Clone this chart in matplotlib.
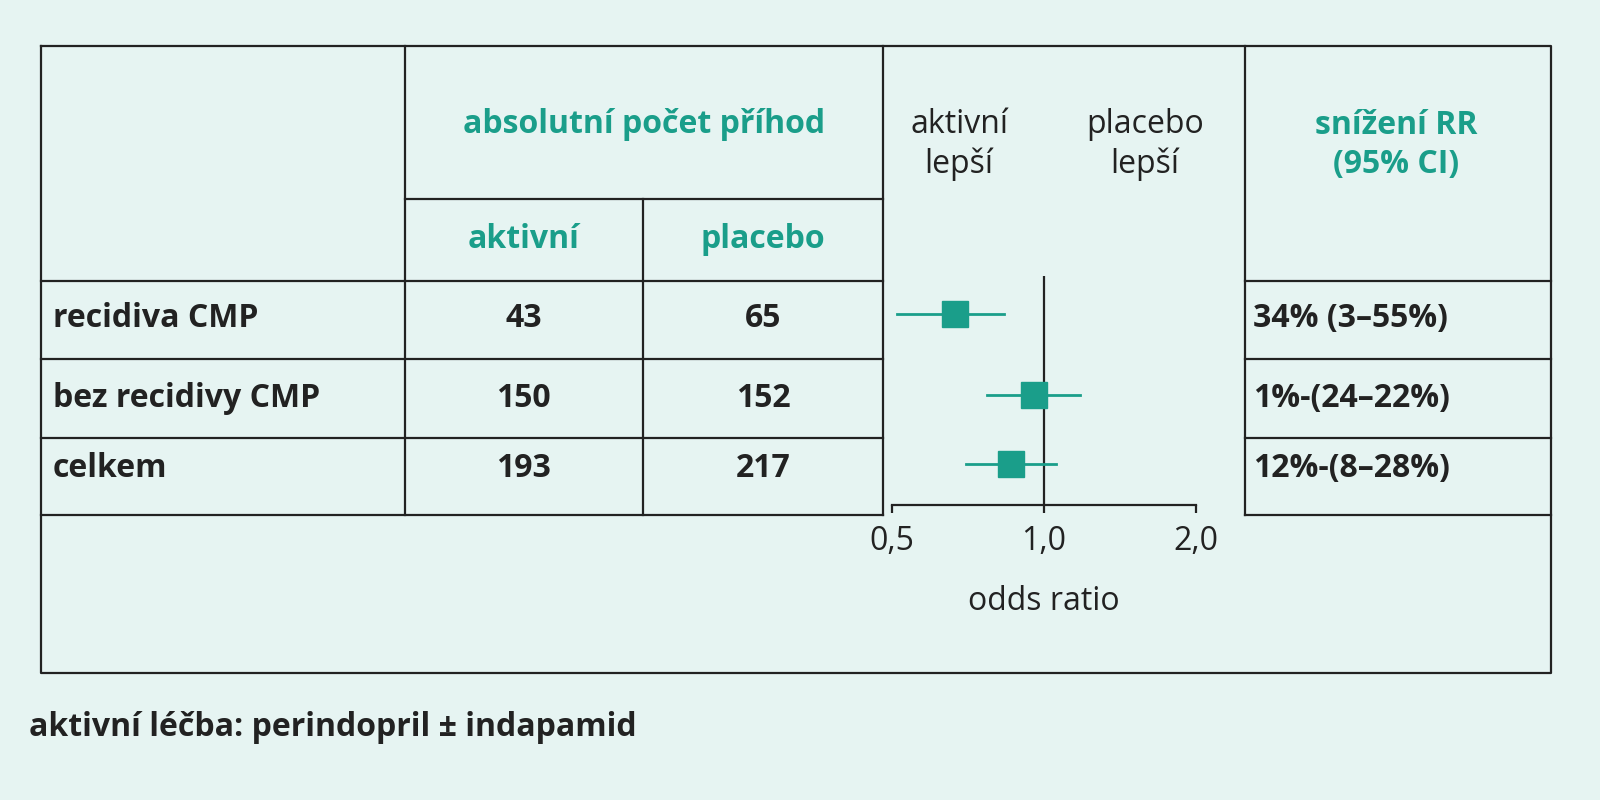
import matplotlib.pyplot as plt

# ----- Data -----
rows = ["recidiva CMP", "bez recidivy CMP", "celkem"]
aktivni = [43, 150, 193]
placebo = [65, 152, 217]
odds = [0.667, 0.955, 0.859]
ci_lo = [0.512, 0.773, 0.702]
ci_hi = [0.832, 1.18, 1.057]
rr_text = ["34% (3–55%)", "1%-(24–22%)", "12%-(8–28%)"]
ticks = [0.5, 1.0, 2.0]
tick_labels = ["0,5", "1,0", "2,0"]

teal = "#1a9e8a"
dark = "#222222"
bg = "#e6f4f2"
plt.rcParams['font.family'] = ['Open Sans', 'DejaVu Sans']
W, H = 1568, 784  # layout units
fs = 23

fig = plt.figure(figsize=(16, 8), dpi=100, facecolor=bg)
ax = fig.add_axes([0, 0, 1, 1])
ax.set_xlim(0, W)
ax.set_ylim(H, 0)
ax.axis('off')

lw = 1.6
def hl(y, x0, x1):
    ax.plot([x0, x1], [y, y], color=dark, lw=lw)
def vl(x, y0, y1):
    ax.plot([x, x], [y0, y1], color=dark, lw=lw)

# table frame
ax.plot([40, 1520, 1520, 40, 40], [45, 45, 660, 660, 45], color=dark, lw=lw)
vl(397, 45, 505)
vl(865, 45, 505)
vl(1220, 45, 505)
vl(630, 195, 505)
hl(195, 397, 865)
for y in [275, 352, 429, 505]:
    hl(y, 40, 865)
    hl(y, 1220, 1520)

# header
ax.text(631, 122, "absolutní počet příhod", ha='center', va='center', color=teal, fontsize=fs, fontweight='bold')
ax.text(513, 235, "aktivní", ha='center', va='center', color=teal, fontsize=fs, fontweight='bold')
ax.text(748, 235, "placebo", ha='center', va='center', color=teal, fontsize=fs, fontweight='bold')
ax.text(940, 142, "aktivní\nlepší", ha='center', va='center', color=dark, fontsize=fs, linespacing=1.25)
ax.text(1122, 142, "placebo\nlepší", ha='center', va='center', color=dark, fontsize=fs, linespacing=1.25)
ax.text(1368, 142, "snížení RR\n(95% CI)", ha='center', va='center', color=teal, fontsize=fs, fontweight='bold', linespacing=1.25)

row_y = [312, 391, 459]
for i, name in enumerate(rows):
    y = row_y[i]
    ax.text(52, y, name, ha='left', va='center', color=dark, fontsize=fs, fontweight='bold')
    ax.text(513, y, str(aktivni[i]), ha='center', va='center', color=dark, fontsize=fs, fontweight='bold')
    ax.text(748, y, str(placebo[i]), ha='center', va='center', color=dark, fontsize=fs, fontweight='bold')
    ax.text(1228, y, rr_text[i], ha='left', va='center', color=dark, fontsize=fs, fontweight='bold')

ax.text(28, 713, "aktivní léčba: perindopril ± indapamid", ha='left', va='center', color=dark, fontsize=fs, fontweight='bold')

# forest plot
x05, x2 = 874, 1172
fa = fig.add_axes([x05 / W, 1 - 495 / H, (x2 - x05) / W, (495 - 270) / H])
fa.set_facecolor('none')
fa.set_xscale('log', base=2)
fa.set_xlim(0.5, 2.0)
fa.set_ylim(495, 270)
fa.axvline(1.0, color=dark, lw=lw)
for i in range(len(rows)):
    fa.plot([ci_lo[i], ci_hi[i]], [row_y[i] - 4, row_y[i] - 4], color=teal, lw=2)
    fa.plot(odds[i], row_y[i] - 4, marker='s', color=teal, markersize=19)
for s in ['top', 'left', 'right']:
    fa.spines[s].set_visible(False)
fa.spines['bottom'].set_linewidth(lw)
fa.spines['bottom'].set_color(dark)
fa.set_yticks([])
fa.set_xticks(ticks)
fa.set_xticklabels(tick_labels, fontsize=fs, color=dark)
fa.minorticks_off()
fa.tick_params(axis='x', length=6, width=lw, color=dark, pad=8)
fa.set_xlabel("odds ratio", fontsize=fs, color=dark, labelpad=20)

fig.savefig("out.png", dpi=100, facecolor=bg)
